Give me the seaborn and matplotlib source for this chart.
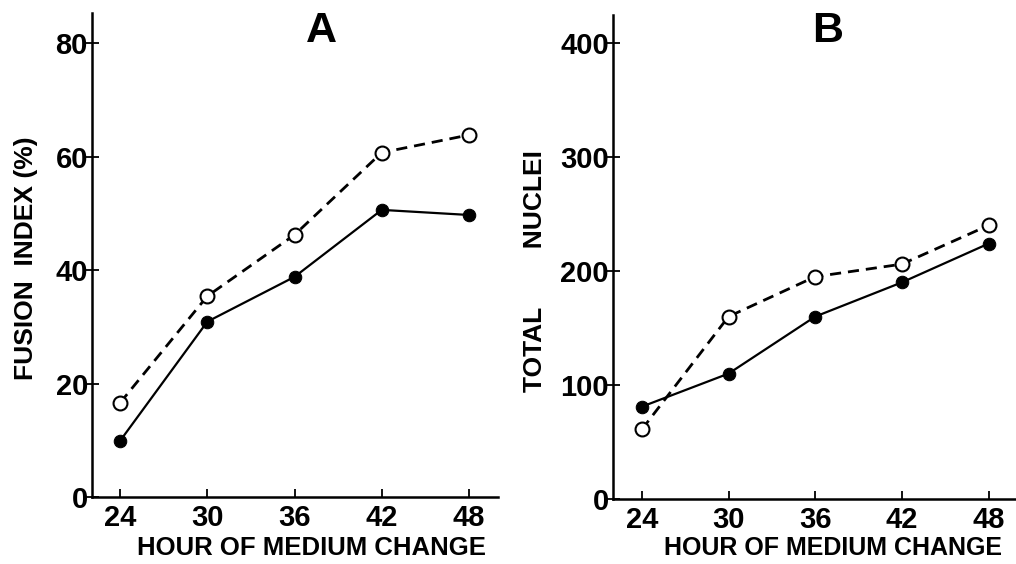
import matplotlib
matplotlib.use("Agg")
import matplotlib.pyplot as plt
import seaborn as sns
import pandas as pd

hours = [24, 30, 36, 42, 48]
fusion_open = [16.6, 35.4, 46.2, 60.7, 63.8]
fusion_filled = [9.9, 30.9, 38.8, 50.6, 49.7]
nuclei_open = [61, 160, 195, 206, 240]
nuclei_filled = [81, 110, 160, 190, 224]
fusion_ticks = [0, 20, 40, 60, 80]
nuclei_ticks = [0, 100, 200, 300, 400]

sns.set_theme(style="ticks")
plt.rcParams['font.family'] = ['Liberation Sans', 'DejaVu Sans']
plt.rcParams['text.color'] = 'black'
plt.rcParams['axes.labelcolor'] = 'black'
plt.rcParams['xtick.color'] = 'black'
plt.rcParams['ytick.color'] = 'black'

fig = plt.figure(figsize=(10.16, 5.64), dpi=100)
axA = fig.add_axes([0.0906, 0.1188, 0.3996, 0.8582])
axB = fig.add_axes([0.6033, 0.1152, 0.3967, 0.8582])


def draw(ax, y_open, y_filled, yticks, ylim, xlim, ylabel, title, title_xy, ylab_xy, xlab_xy, xlab_size):
    df_o = pd.DataFrame({"hour": hours, "val": y_open})
    df_f = pd.DataFrame({"hour": hours, "val": y_filled})
    sns.lineplot(data=df_f, x="hour", y="val", ax=ax, color="black", lw=1.6,
                 marker="o", markersize=9, markerfacecolor="black",
                 markeredgecolor="black", zorder=3)
    sns.lineplot(data=df_o, x="hour", y="val", ax=ax, color="black", lw=2.0,
                 linestyle=(0, (4, 2.5)), marker="o", markersize=10,
                 markerfacecolor="white", markeredgecolor="black",
                 markeredgewidth=1.5, zorder=4)
    ax.set_xlim(*xlim)
    ax.set_ylim(*ylim)
    ax.set_xticks(hours)
    ax.set_yticks(yticks)
    ax.set_xticklabels([str(h) for h in hours], fontsize=21, fontweight="bold")
    ax.set_yticklabels([str(t) for t in yticks], fontsize=21, fontweight="bold")
    ax.tick_params(axis="y", direction="inout", length=10, width=1.3, pad=-2)
    ax.tick_params(axis="x", direction="in", length=6, width=1.3, pad=5)
    for s in ["top", "right"]:
        ax.spines[s].set_visible(False)
    for s in ["left", "bottom"]:
        ax.spines[s].set_linewidth(1.8)
        ax.spines[s].set_color("black")
    ax.set_xlabel("HOUR OF MEDIUM CHANGE", fontsize=xlab_size, fontweight="bold")
    ax.set_ylabel(ylabel, fontsize=19, fontweight="bold")
    ax.xaxis.set_label_coords(*xlab_xy)
    ax.yaxis.set_label_coords(*ylab_xy)
    ax.text(title_xy[0], title_xy[1], title, transform=ax.transAxes,
            fontsize=31, fontweight="bold", ha="center", va="center")
    ax.set_facecolor("white")


draw(axA, fusion_open, fusion_filled, fusion_ticks, (0, 85.3), (22.07, 50.0),
     "FUSION  INDEX (%)", "A", (0.566, 0.963), (-0.133, 0.494), (0.54, -0.081), 18.5)
draw(axB, nuclei_open, nuclei_filled, nuclei_ticks, (0, 424.5), (22.0, 49.9),
     "TOTAL        NUCLEI", "B", (0.533, 0.967), (-0.164, 0.47), (0.545, -0.077), 18)

fig.savefig("out.png", dpi=100, facecolor="white")
